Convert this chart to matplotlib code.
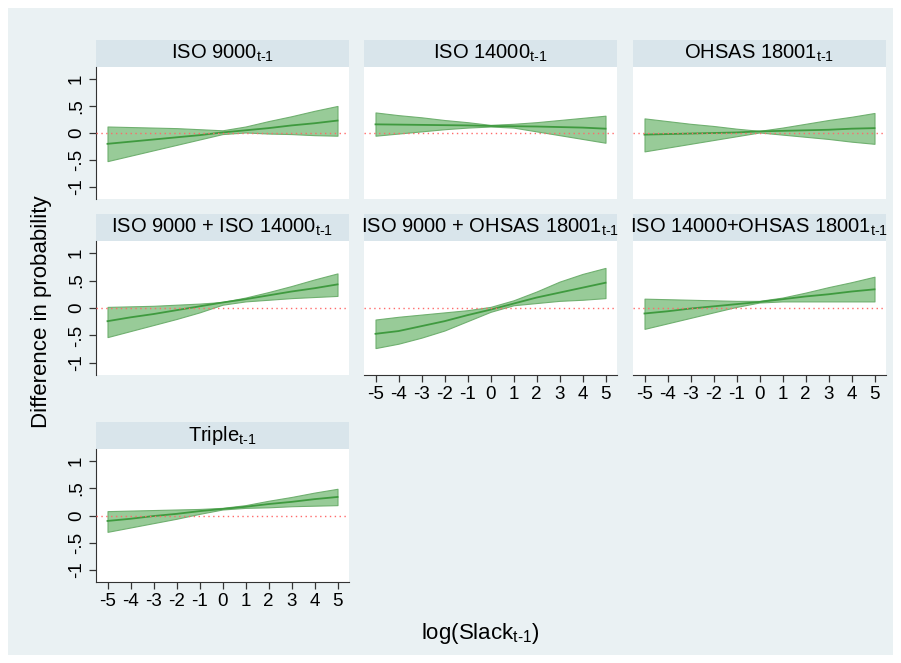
import matplotlib
matplotlib.use('Agg')
import matplotlib.pyplot as plt
from matplotlib.patches import Rectangle
import numpy as np

plt.rcParams['font.family'] = ['Liberation Sans', 'DejaVu Sans']
plt.rcParams['mathtext.fontset'] = 'custom'
plt.rcParams['mathtext.rm'] = 'Liberation Sans'

# DATA
slack = [-5, -4, -3, -2, -1, 0, 1, 2, 3, 4, 5]

titles = [
    r'ISO 9000$_\mathregular{t\text{-}1}$',
    r'ISO 14000$_\mathregular{t\text{-}1}$',
    r'OHSAS 18001$_\mathregular{t\text{-}1}$',
    r'ISO 9000 + ISO 14000$_\mathregular{t\text{-}1}$',
    r'ISO 9000 + OHSAS 18001$_\mathregular{t\text{-}1}$',
    r'ISO 14000+OHSAS 18001$_\mathregular{t\text{-}1}$',
    r'Triple$_\mathregular{t\text{-}1}$',
]

iso9000_mid = [-0.20, -0.16, -0.12, -0.08, -0.04, 0.01, 0.05, 0.09, 0.14, 0.18, 0.23]
iso9000_hi = [0.12, 0.11, 0.10, 0.09, 0.07, 0.05, 0.12, 0.22, 0.31, 0.41, 0.50]
iso9000_lo = [-0.52, -0.42, -0.32, -0.22, -0.12, -0.02, 0.01, -0.01, -0.02, -0.04, -0.05]

iso14000_mid = [0.16, 0.155, 0.15, 0.145, 0.14, 0.13, 0.125, 0.12, 0.11, 0.10, 0.08]
iso14000_hi = [0.38, 0.33, 0.29, 0.24, 0.20, 0.15, 0.17, 0.20, 0.24, 0.28, 0.32]
iso14000_lo = [-0.05, -0.01, 0.03, 0.07, 0.10, 0.12, 0.10, 0.03, -0.04, -0.11, -0.18]

ohsas_mid = [-0.03, -0.02, -0.01, 0.00, 0.01, 0.03, 0.04, 0.05, 0.06, 0.08, 0.09]
ohsas_hi = [0.27, 0.22, 0.17, 0.13, 0.08, 0.04, 0.10, 0.17, 0.24, 0.30, 0.37]
ohsas_lo = [-0.34, -0.27, -0.20, -0.13, -0.06, 0.01, -0.03, -0.07, -0.11, -0.16, -0.20]

i9_i14_mid = [-0.24, -0.17, -0.11, -0.04, 0.03, 0.10, 0.16, 0.23, 0.30, 0.36, 0.43]
i9_i14_hi = [0.02, 0.03, 0.04, 0.06, 0.08, 0.11, 0.19, 0.29, 0.40, 0.52, 0.63]
i9_i14_lo = [-0.53, -0.42, -0.31, -0.20, -0.08, 0.06, 0.12, 0.15, 0.18, 0.20, 0.22]

i9_oh_mid = [-0.47, -0.42, -0.33, -0.24, -0.13, -0.03, 0.08, 0.19, 0.28, 0.37, 0.46]
i9_oh_hi = [-0.21, -0.16, -0.12, -0.08, -0.04, 0.02, 0.14, 0.30, 0.48, 0.62, 0.73]
i9_oh_lo = [-0.73, -0.65, -0.54, -0.41, -0.24, -0.07, 0.05, 0.09, 0.13, 0.15, 0.18]

i14_oh_mid = [-0.10, -0.06, -0.01, 0.03, 0.07, 0.11, 0.16, 0.21, 0.25, 0.30, 0.34]
i14_oh_hi = [0.17, 0.16, 0.15, 0.14, 0.13, 0.13, 0.19, 0.28, 0.38, 0.47, 0.57]
i14_oh_lo = [-0.38, -0.28, -0.18, -0.08, 0.02, 0.10, 0.12, 0.12, 0.12, 0.12, 0.12]

triple_mid = [-0.10, -0.06, -0.01, 0.03, 0.08, 0.12, 0.16, 0.21, 0.25, 0.30, 0.34]
triple_hi = [0.08, 0.09, 0.10, 0.11, 0.12, 0.14, 0.19, 0.27, 0.34, 0.42, 0.49]
triple_lo = [-0.30, -0.22, -0.14, -0.06, 0.03, 0.11, 0.14, 0.15, 0.17, 0.18, 0.19]

mids = [iso9000_mid, iso14000_mid, ohsas_mid, i9_i14_mid, i9_oh_mid, i14_oh_mid, triple_mid]
his = [iso9000_hi, iso14000_hi, ohsas_hi, i9_i14_hi, i9_oh_hi, i14_oh_hi, triple_hi]
los = [iso9000_lo, iso14000_lo, ohsas_lo, i9_i14_lo, i9_oh_lo, i14_oh_lo, triple_lo]

xticks = [-5, -4, -3, -2, -1, 0, 1, 2, 3, 4, 5]
yticks = [-1, -0.5, 0, 0.5, 1]
ytick_labels = ['-1', '-.5', '0', '.5', '1']

# LAYOUT (pixels of a 901x663 canvas)
W, H = 901, 663
col_left = [96, 364, 633]
col_w = 253
row_plot = [(67, 199), (241, 375), (449, 582)]
strip_h = 27

bg = '#eaf1f3'
strip_col = '#d9e5eb'

fig = plt.figure(figsize=(W / 100, H / 100), dpi=100, facecolor='white')
# outer graph region with thin white margin
back = Rectangle((8 / W, 8 / H), (W - 16) / W, (H - 16) / H, transform=fig.transFigure,
                 facecolor=bg, edgecolor='none')
back.set_zorder(-10)
fig.add_artist(back)

for i in range(7):
    r, c = divmod(i, 3)
    top, bot = row_plot[r]
    ax = fig.add_axes([col_left[c] / W, 1 - bot / H, col_w / W, (bot - top) / H])
    ax.set_facecolor('white')

    ax.fill_between(slack, los[i], his[i], facecolor='#93c993', edgecolor='#6bad6b',
                    linewidth=0.8, alpha=0.95, zorder=2)
    ax.plot(slack, mids[i], color='#3f9a3f', linewidth=1.3, zorder=3)
    ax.axhline(0, color='#ff6a6a', linestyle=(0, (1, 2.5)), linewidth=1.0, zorder=4)

    ax.set_xlim(-5.5, 5.5)
    ax.set_ylim(-1.22, 1.22)

    for s in ['top', 'right']:
        ax.spines[s].set_visible(False)

    has_x = (i in (4, 5, 6))
    has_y = (c == 0)

    if has_y:
        ax.set_yticks(yticks)
        ax.set_yticklabels(ytick_labels, rotation=90, va='center', fontsize=13.5)
        ax.spines['left'].set_color('#333333')
    else:
        ax.spines['left'].set_visible(False)
        ax.set_yticks([])

    if has_x:
        ax.set_xticks(xticks)
        ax.set_xticklabels([str(t) for t in xticks], fontsize=13.5)
        ax.spines['bottom'].set_color('#333333')
    else:
        ax.spines['bottom'].set_visible(False)
        ax.set_xticks([])

    ax.tick_params(direction='out', length=5, width=0.9, color='#333333', pad=3)

    # strip title
    sh = strip_h / (bot - top)
    ax.add_patch(Rectangle((0, 1), 1, sh, transform=ax.transAxes, facecolor=strip_col,
                           edgecolor='none', clip_on=False))
    ax.text(0.5, 1 + sh / 2, titles[i], transform=ax.transAxes, ha='center', va='center',
            fontsize=14.5)

fig.text(42 / W, 1 - 312 / H, 'Difference in probability', rotation=90,
         ha='center', va='center', fontsize=16)
fig.text(480 / W, 1 - 633 / H, r'log(Slack$_\mathregular{t\text{-}1}$)',
         ha='center', va='center', fontsize=16)

fig.savefig('out.png', dpi=100, facecolor='white')
